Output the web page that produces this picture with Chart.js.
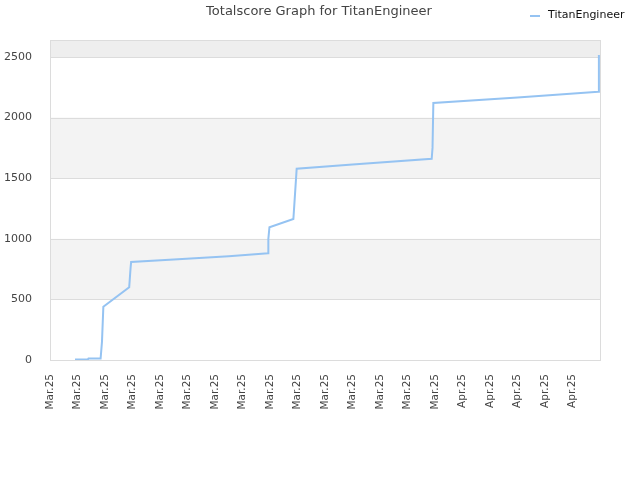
<!DOCTYPE html>
<html lang="en">
<head>
    <meta charset="UTF-8">
    <title>Totalscore Graph for TitanEngineer</title>
    <script src="https://cdn.jsdelivr.net/npm/chart.js"></script>
    <style>
        body { margin: 0; background: #ffffff; }
        #wrap { width: 640px; height: 480px; }
    </style>
</head>
<body>
    <div id="wrap"><canvas id="scoreChart"></canvas></div>
    <script>
        // x axis tick labels (one per tick)
        const tickLabels = ["Mar.25", "Mar.25", "Mar.25", "Mar.25", "Mar.25", "Mar.25", "Mar.25", "Mar.25",
            "Mar.25", "Mar.25", "Mar.25", "Mar.25", "Mar.25", "Mar.25", "Mar.25",
            "Apr.25", "Apr.25", "Apr.25", "Apr.25", "Apr.25"];

        // y axis ticks
        const yTicks = [0, 500, 1000, 1500, 2000, 2500];

        // positions along the time axis (in tick units) and total score at each
        const timePos = [0.91, 1.38, 1.40, 1.84, 1.89, 1.94, 2.88, 2.93, 2.95, 4.5, 6.5, 7.93,
            7.94, 7.98, 8.85, 8.89, 8.97, 11.0, 13.88, 13.91, 13.94, 17.0, 19.94, 19.96];
        const totalScore = [5, 5, 12, 12, 150, 440, 600, 760, 808, 830, 855, 880,
            1000, 1095, 1163, 1300, 1578, 1612, 1660, 1750, 2120, 2166, 2214, 2516];

        const seriesName = "TitanEngineer";
        const lineColor = "#95c3f2";

        const points = timePos.map((x, i) => ({ x: x, y: totalScore[i] }));

        // alternating background bands + plot frame + title/legend
        const decor = {
            id: 'decor',
            beforeDatasetsDraw(chart) {
                const { ctx, chartArea: a, scales: { y } } = chart;
                ctx.save();
                for (let v = 500; v < y.max; v += 1000) {
                    const top = y.getPixelForValue(Math.min(v + 500, y.max));
                    const bot = y.getPixelForValue(v);
                    ctx.fillStyle = v + 500 > y.max ? '#eeeeee' : '#f3f3f3';
                    ctx.fillRect(a.left, top, a.right - a.left, bot - top);
                }
                ctx.strokeStyle = '#dcdcdc';
                ctx.lineWidth = 1;
                for (let v = 500; v < y.max; v += 500) {
                    const py = Math.round(y.getPixelForValue(v)) + 0.5;
                    ctx.beginPath();
                    ctx.moveTo(a.left, py);
                    ctx.lineTo(a.right, py);
                    ctx.stroke();
                }
                ctx.strokeRect(Math.round(a.left) + 0.5, Math.round(a.top) + 0.5,
                    Math.round(a.right - a.left), Math.round(a.bottom - a.top));
                ctx.restore();
            },
            afterDraw(chart) {
                const ctx = chart.ctx;
                ctx.save();
                ctx.fillStyle = '#444444';
                ctx.font = '13px "DejaVu Sans", sans-serif';
                ctx.textAlign = 'center';
                ctx.textBaseline = 'middle';
                ctx.fillText('Totalscore Graph for TitanEngineer', 319, 12);
                ctx.strokeStyle = lineColor;
                ctx.lineWidth = 2;
                ctx.beginPath();
                ctx.moveTo(530, 16);
                ctx.lineTo(540, 16);
                ctx.stroke();
                ctx.fillStyle = '#111111';
                ctx.font = '11px "DejaVu Sans", sans-serif';
                ctx.textAlign = 'left';
                ctx.fillText(seriesName, 548, 15);
                ctx.restore();
            }
        };

        const ctx = document.getElementById('scoreChart').getContext('2d');
        new Chart(ctx, {
            type: 'line',
            data: {
                datasets: [{
                    label: seriesName,
                    data: points,
                    borderColor: lineColor,
                    backgroundColor: lineColor,
                    borderWidth: 2,
                    pointRadius: 0,
                    fill: false,
                    tension: 0
                }]
            },
            options: {
                responsive: true,
                maintainAspectRatio: false,
                animation: false,
                layout: { padding: { top: 40, right: 40, left: 0, bottom: 0 } },
                plugins: {
                    legend: { display: false },
                    title: { display: false },
                    tooltip: { enabled: false }
                },
                scales: {
                    x: {
                        type: 'linear',
                        min: 0,
                        max: 20,
                        afterFit: s => { s.height = 120; },
                        afterBuildTicks: s => {
                            s.ticks = tickLabels.map((_, i) => ({ value: i }));
                        },
                        grid: { display: false },
                        border: { display: false },
                        ticks: {
                            autoSkip: false,
                            minRotation: 90,
                            maxRotation: 90,
                            padding: 6,
                            color: '#444444',
                            font: { family: 'DejaVu Sans', size: 10.5 },
                            callback: v => tickLabels[v]
                        }
                    },
                    y: {
                        min: 0,
                        max: 2640,
                        afterFit: s => { s.width = 50; },
                        afterBuildTicks: s => {
                            s.ticks = yTicks.map(v => ({ value: v }));
                        },
                        grid: { display: false },
                        border: { display: false },
                        ticks: {
                            padding: 10,
                            color: '#444444',
                            font: { family: 'DejaVu Sans', size: 11 },
                            callback: v => String(v)
                        }
                    }
                }
            },
            plugins: [decor]
        });
    </script>
</body>
</html>
